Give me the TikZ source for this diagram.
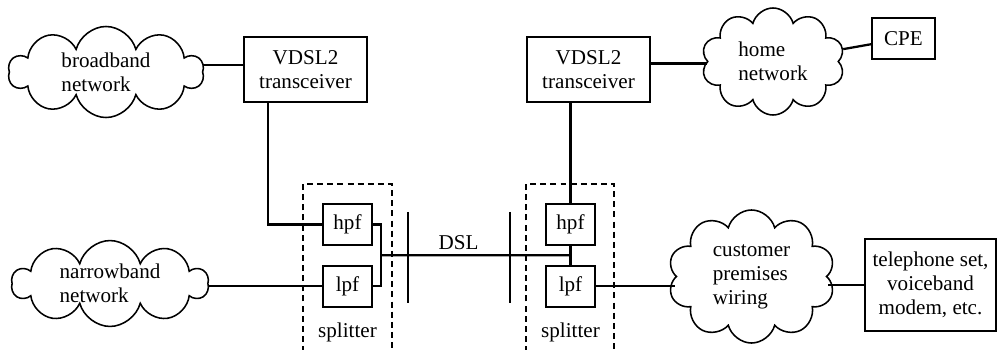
\documentclass[tikz,border=0pt]{standalone}
\usepackage{fontspec}
\setmainfont{Liberation Serif}
\usepackage{tikz}
\usetikzlibrary{shapes.symbols, positioning, calc}
\newcommand{\dslfont}{\fontsize{15}{17}\selectfont}
\tikzset{
  netcloud/.style={cloud, cloud puffs=10, cloud ignores aspect, draw,
    line width=1.1pt, align=left, inner sep=0pt, font=\dslfont},
  devbox/.style={rectangle, draw, line width=1.2pt, align=center,
    inner sep=0pt, font=\dslfont},
  filtbox/.style={rectangle, draw, line width=1.2pt, inner sep=0pt,
    minimum width=1.225cm, minimum height=1.025cm, font=\dslfont},
  wire/.style={line width=1.6pt},
  splitbox/.style={line width=1.2pt, dash pattern=on 4.2pt off 3pt},
  lbl/.style={font=\dslfont, inner sep=1pt}
}

\begin{document}
\begin{tikzpicture}[x=0.025cm, y=-0.025cm, node distance=0.475cm]
  \useasboundingbox (0,0) rectangle (998,349);

  % networks
  \node[netcloud, minimum width=4.875cm, minimum height=2.275cm] (bb) at (106,72) {broadband\\network};
  \node[netcloud, minimum width=4.9cm, minimum height=1.925cm] (nb) at (110,283.5) {narrowband\\network};
  \node[netcloud, minimum width=3.575cm, minimum height=2.675cm] (home) at (773,61.5) {home\\network};
  \node[netcloud, minimum width=4.175cm, minimum height=3.325cm] (cust) at (751.5,276.5) {customer\\premises\\wiring};

  % transceivers and end devices
  \node[devbox, minimum width=3.075cm, minimum height=1.625cm] (vdslL) at (305.5,69.5) {VDSL2\\transceiver};
  \node[devbox, minimum width=3.075cm, minimum height=1.625cm] (vdslR) at (588.5,69.5) {VDSL2\\transceiver};
  \node[devbox, minimum width=1.575cm, minimum height=1.025cm] (cpe) at (903.5,38.5) {CPE};
  \node[devbox, minimum width=3.275cm, minimum height=2.3cm] (tel) at (930.5,285) {telephone set,\\voiceband\\modem, etc.};

  % splitters
  \node[filtbox] (hpfL) at (347.5,224.5) {hpf};
  \node[filtbox, below=of hpfL] (lpfL) {lpf};
  \node[filtbox] (hpfR) at (570.5,224.5) {hpf};
  \node[filtbox, below=of hpfR] (lpfR) {lpf};
  \draw[splitbox] (303,352) |- (392,184) -- (392,352);
  \draw[splitbox] (526,352) |- (614,184) -- (614,352);
  \node[lbl] (splitL) at (347.5,332) {splitter};
  \node[lbl] (splitR) at (570.5,332) {splitter};

  % wiring
  \draw[wire] ([yshift=0.11cm]vdslL.west) -- ([yshift=0.11cm]vdslL.west -| bb.east);
  \draw[wire] ([xshift=-0.9375cm]vdslL.south) |- (hpfL.west);
  \coordinate (jL) at ($(hpfL.east)!0.5!(lpfL.east)+(8,0)$);
  \draw[wire] (hpfL.east) -| (jL) |- (lpfL.east);
  \draw[wire] (lpfL.west) -- (lpfL.west -| nb.east);
  \coordinate (jR) at ($(hpfR.south)!0.5!(lpfR.north)$);
  \draw[wire] (hpfR.south) -- (lpfR.north);
  \draw[wire] (jL) -- node[lbl, pos=0.41, above=2pt] (dsl) {DSL} (jR);
  \coordinate (tickL) at ($(jL)+(27,0)$);
  \coordinate (tickR) at ($(jR)+(-60.5,0)$);
  \draw[wire] ($(tickL)+(0,-43.5)$) -- ($(tickL)+(0,47.5)$);
  \draw[wire] ($(tickR)+(0,-43.5)$) -- ($(tickR)+(0,47.5)$);
  \draw[wire] (hpfR.north) -- (hpfR.north |- vdslR.south);
  \draw[wire] ([yshift=0.15cm]vdslR.east) -- ([yshift=0.15cm]vdslR.east -| home.west);
  \draw[wire] (home) -- (cpe);
  \draw[wire] (lpfR.east) -- (lpfR.east -| cust.west);
  \draw[wire] (tel.west) -- (tel.west -| cust.east);
\end{tikzpicture}
\end{document}
